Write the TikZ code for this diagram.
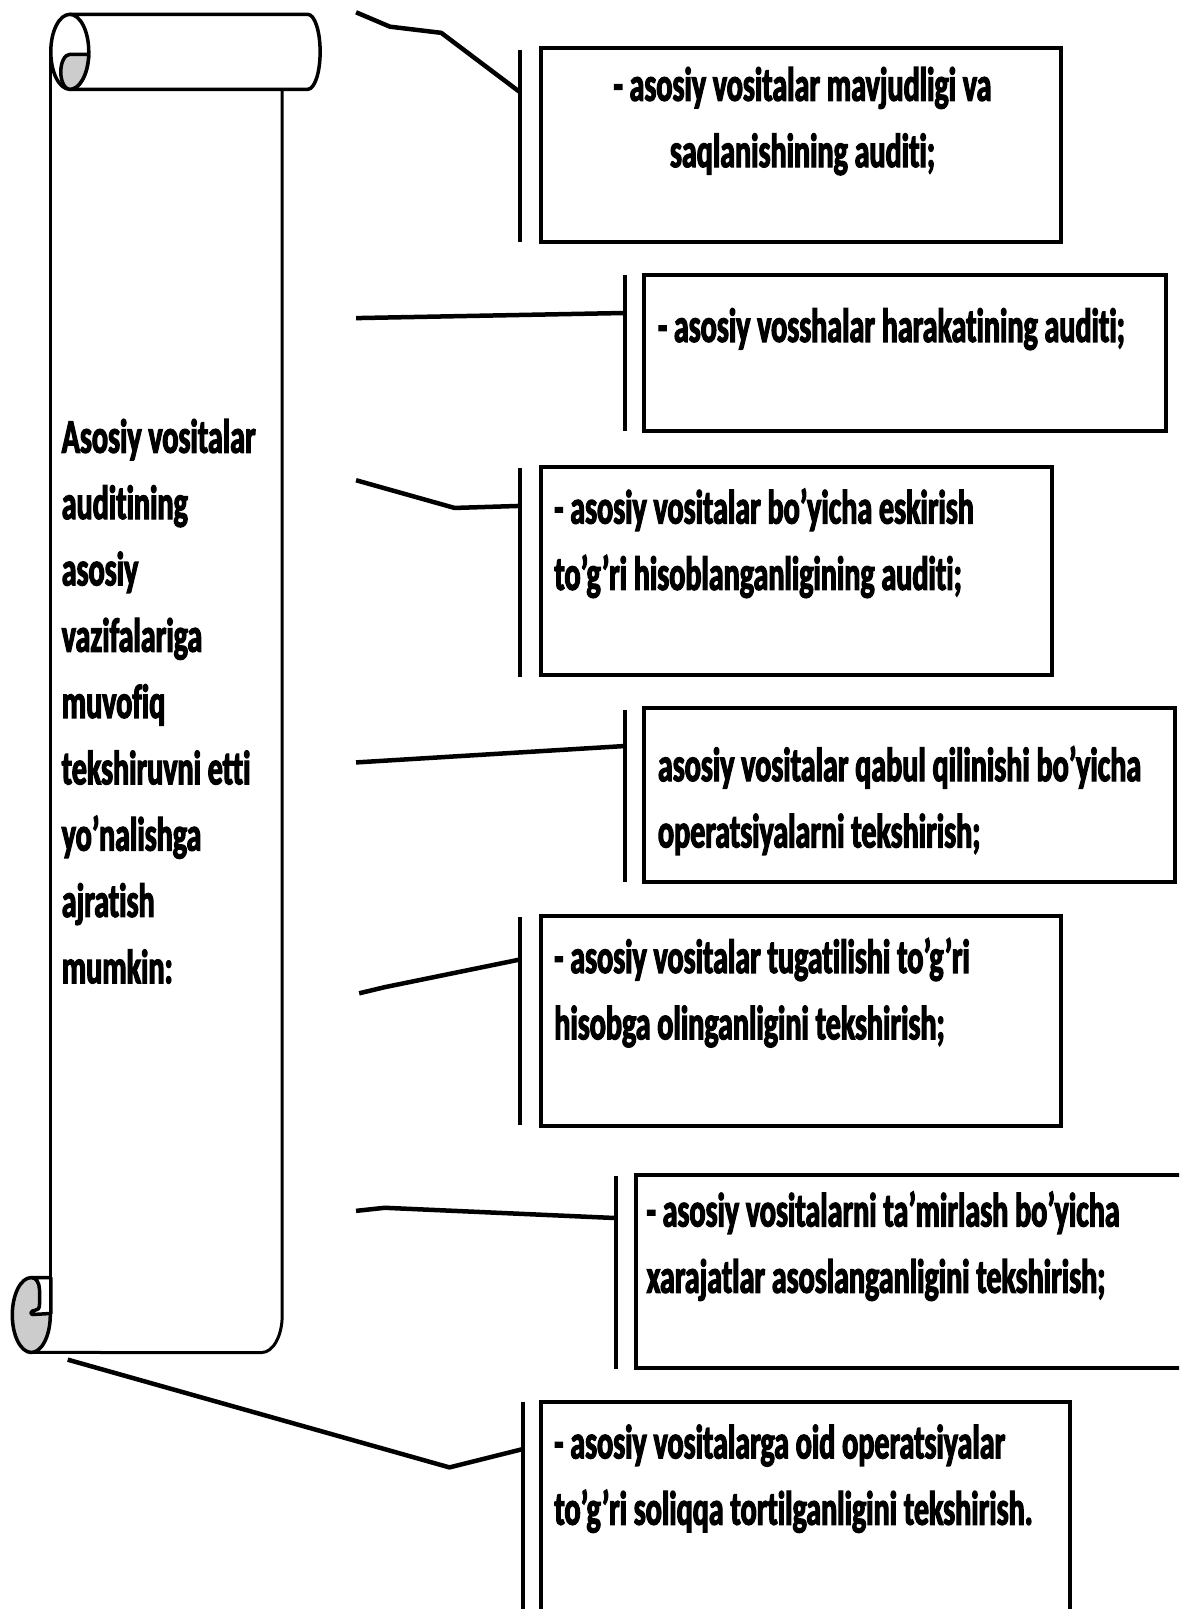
\documentclass[tikz,border=0pt]{standalone}
\usepackage{fontspec}
\newfontfamily\scrollfont[FakeStretch=0.625, FakeBold=2.5, Ligatures={NoCommon}]{Carlito}
\usetikzlibrary{fit}
\begin{document}
\begin{tikzpicture}[x=1.026pt, y=-1.026pt,
  roll/.style={draw=black, line width=3.5pt, line join=round, line cap=round},
  sheet/.style={draw=black, line width=3pt, line join=round},
  curl/.style={fill=black!20},
  card/.style={draw=black, line width=4pt, inner sep=0pt},
  bar/.style={draw=black, line width=3.2pt, inner sep=0pt},
  link/.style={draw=black, line width=4.5pt, line join=round},
  lines/.style={font=\scrollfont\bfseries\fontsize{48}{66.3}\selectfont, inner sep=0pt, anchor=north west, align=left},
]
\useasboundingbox (0,0) rectangle (1149,1568);
\clip (0,0) rectangle (1149,1568);

% sheet of the scroll
\draw[sheet] (49.5,50.5) -- (49.5,1280);
\draw[sheet] (275,87) -- (275,1282)
  arc[start angle=0, end angle=-90, x radius=20.5pt, y radius=37pt] -- (30.5,1318);

% upper roll
\draw[roll, fill=white] (68,14) -- (300,14)
  arc[start angle=90, end angle=-90, x radius=12.3pt, y radius=37.45pt] -- (68,87);
\draw[roll, fill=white] (68,50.5) ellipse[x radius=19pt, y radius=37.45pt];
\draw[roll, curl] (68,53)
  arc[start angle=90, end angle=270, x radius=9pt, y radius=17.5pt]
  arc[start angle=-90, end angle=-3.9, x radius=19pt, y radius=37.45pt] -- cycle;

% lower roll
\draw[roll, curl] (30.5,1281.5) ellipse[x radius=19pt, y radius=37.45pt];
\draw[roll, fill=white] (31,1245) -- (49.5,1245) -- (49.5,1280) -- (32,1281)
  .. controls (29,1281) and (30,1277) .. (34,1277)
  .. controls (37,1277) and (38.5,1275) .. (38.5,1271) -- (38.5,1257)
  .. controls (38.5,1250) and (35,1245) .. (31,1245) -- cycle;

% scroll text
\node[lines] (title) at (60,402) {\rule{0pt}{40pt}Asosiy vositalar\\auditining\\asosiy\\vazifalariga\\muvofiq\\tekshiruvni etti\\yo’nalishga\\ajratish\\mumkin:};

% boxes
\node[card, fit={(527,47) (1034,236)}] (box1) {};
\node[card, fit={(628,268) (1136,420)}] (box2) {};
\node[card, fit={(527,455) (1025,658)}] (box3) {};
\node[card, fit={(628,690) (1145,860)}] (box4) {};
\node[card, fit={(527,893) (1034,1097)}] (box5) {};
\node[card, fit={(620,1145) (1165,1333)}] (box6) {};
\node[card, fit={(527,1366) (1043,1590)}] (box7) {};

% bars beside the boxes
\node[bar, fit={(507,50) (507,234)}] (bar1) {};
\node[bar, fit={(609,270) (609,418)}] (bar2) {};
\node[bar, fit={(507,458) (507,658)}] (bar3) {};
\node[bar, fit={(609,693) (609,858)}] (bar4) {};
\node[bar, fit={(507,895) (507,1095)}] (bar5) {};
\node[bar, fit={(600,1148) (600,1333)}] (bar6) {};
\node[bar, fit={(510,1368) (510,1590)}] (bar7) {};

% box texts
\node[lines, anchor=north, align=center] (text1) at (782,59) {\rule{0pt}{40pt}- asosiy vositalar mavjudligi va\\saqlanishining auditi;};
\node[lines] (text2) at (641,294) {\rule{0pt}{40pt}- asosiy vosshalar harakatining auditi;};
\node[lines] (text3) at (540,471) {\rule{0pt}{40pt}- asosiy vositalar bo’yicha eskirish\\to’g’ri hisoblanganligining auditi;};
\node[lines] (text4) at (641,722) {\rule{0pt}{40pt}asosiy vositalar qabul qilinishi bo’yicha\\operatsiyalarni tekshirish;};
\node[lines] (text5) at (540,909) {\rule{0pt}{40pt}- asosiy vositalar tugatilishi to’g’ri\\hisobga olinganligini tekshirish;};
\node[lines] (text6) at (630,1156) {\rule{0pt}{40pt}- asosiy vositalarni ta’mirlash bo’yicha\\xarajatlar asoslanganligini tekshirish;};
\node[lines] (text7) at (540,1382) {\rule{0pt}{40pt}- asosiy vositalarga oid operatsiyalar\\to’g’ri soliqqa tortilganligini tekshirish.};

% connectors from the scroll to the bars
\coordinate (s1) at (347,12);   \coordinate (e1) at (507,90);
\coordinate (s2) at (347,310);  \coordinate (e2) at (609,305);
\coordinate (s3) at (347,468);  \coordinate (e3) at (507,493);
\coordinate (s4) at (347,743);  \coordinate (e4) at (609,727);
\coordinate (s5) at (350,968);  \coordinate (e5) at (507,935);
\coordinate (s6) at (347,1180); \coordinate (e6) at (600,1187);
\coordinate (s7) at (66,1325);  \coordinate (e7) at (510,1412);

\draw[link] (s1) -- (380,26) -- (430,32) -- (e1);
\draw[link] (s2) -- (e2);
\draw[link] (s3) -- (443,495) -- (e3);
\draw[link] (s4) -- (e4);
\draw[link] (s5) -- (375,962) -- (e5);
\draw[link] (s6) -- (375,1177) -- (e6);
\draw[link] (s7) -- (438,1430) -- (e7);
\end{tikzpicture}
\end{document}
